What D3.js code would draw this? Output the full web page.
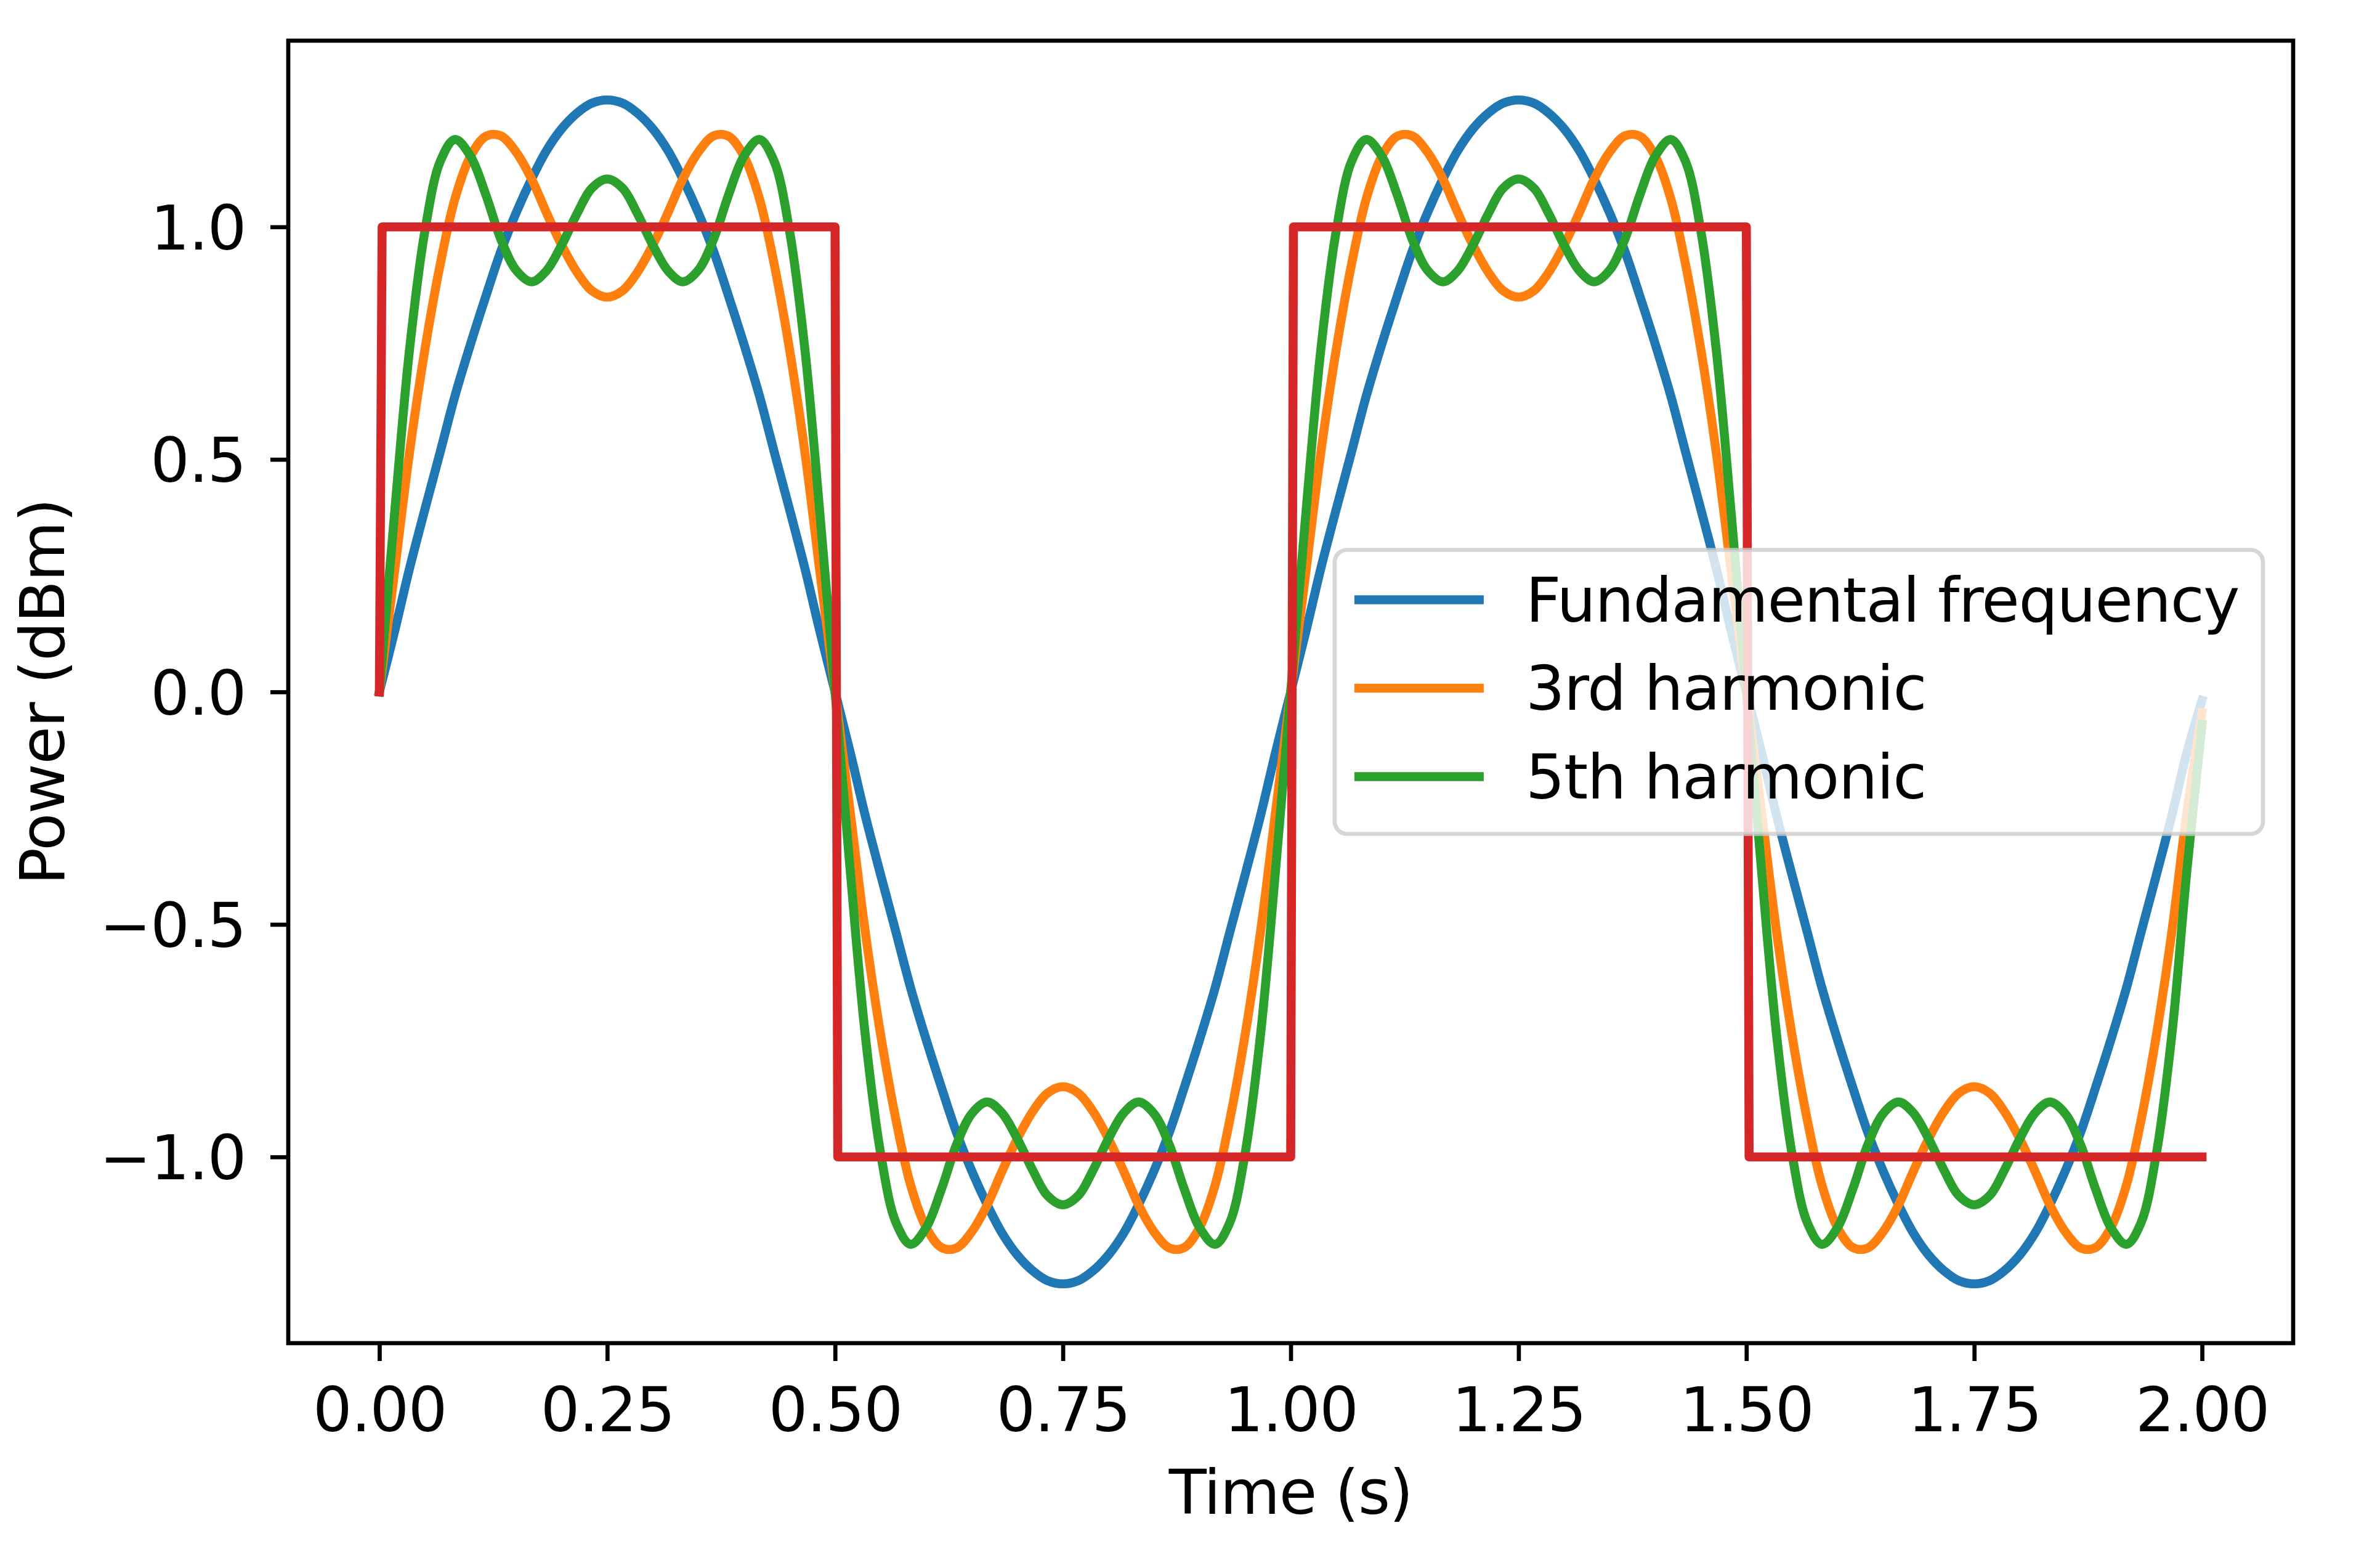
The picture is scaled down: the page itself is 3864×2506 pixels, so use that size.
<!DOCTYPE html>
<html>
<head>
<meta charset="utf-8">
<script src="https://cdn.jsdelivr.net/npm/d3@7"></script>
<style>
body{margin:0;background:#fff;}
svg text{font-family:"DejaVu Sans",sans-serif;letter-spacing:-1.4px;}
</style>
</head>
<body>
<svg id="chart"></svg>
<script>
// sample times (s)
var time = [
 0.000, 0.017, 0.033, 0.050, 0.067, 0.083, 0.100, 0.117, 0.133, 0.150, 0.167, 0.183, 0.200, 0.217, 0.233, 0.250, 0.267, 0.283, 0.300, 0.317, 0.333, 0.350, 0.367, 0.383, 0.400, 0.417, 0.433, 0.450, 0.467, 0.483,
 0.500, 0.517, 0.533, 0.550, 0.567, 0.583, 0.600, 0.617, 0.633, 0.650, 0.667, 0.683, 0.700, 0.717, 0.733, 0.750, 0.767, 0.783, 0.800, 0.817, 0.833, 0.850, 0.867, 0.883, 0.900, 0.917, 0.933, 0.950, 0.967, 0.983,
 1.000, 1.017, 1.033, 1.050, 1.067, 1.083, 1.100, 1.117, 1.133, 1.150, 1.167, 1.183, 1.200, 1.217, 1.233, 1.250, 1.267, 1.283, 1.300, 1.317, 1.333, 1.350, 1.367, 1.383, 1.400, 1.417, 1.433, 1.450, 1.467, 1.483,
 1.500, 1.517, 1.533, 1.550, 1.567, 1.583, 1.600, 1.617, 1.633, 1.650, 1.667, 1.683, 1.700, 1.717, 1.733, 1.750, 1.767, 1.783, 1.800, 1.817, 1.833, 1.850, 1.867, 1.883, 1.900, 1.917, 1.933, 1.950, 1.967, 1.983,
 2.000
];
var fundamental = [
 0, 0.133, 0.265, 0.393, 0.518, 0.637, 0.748, 0.852, 0.946, 1.03, 1.103, 1.163, 1.211, 1.245, 1.266, 1.273, 1.266, 1.245, 1.211, 1.163, 1.103, 1.03, 0.946, 0.852, 0.748, 0.637, 0.518, 0.393, 0.265, 0.133,
 0, -0.133, -0.265, -0.393, -0.518, -0.637, -0.748, -0.852, -0.946, -1.03, -1.103, -1.163, -1.211, -1.245, -1.266, -1.273, -1.266, -1.245, -1.211, -1.163, -1.103, -1.03, -0.946, -0.852, -0.748, -0.637, -0.518, -0.393, -0.265, -0.133,
 0, 0.133, 0.265, 0.393, 0.518, 0.637, 0.748, 0.852, 0.946, 1.03, 1.103, 1.163, 1.211, 1.245, 1.266, 1.273, 1.266, 1.245, 1.211, 1.163, 1.103, 1.03, 0.946, 0.852, 0.748, 0.637, 0.518, 0.393, 0.265, 0.133,
 0, -0.133, -0.265, -0.393, -0.518, -0.637, -0.748, -0.852, -0.946, -1.03, -1.103, -1.163, -1.211, -1.245, -1.266, -1.273, -1.266, -1.245, -1.211, -1.163, -1.103, -1.03, -0.946, -0.852, -0.748, -0.637, -0.518, -0.393, -0.265, -0.133,
 -0.018
];
var harmonic3 = [
 0, 0.264, 0.514, 0.737, 0.922, 1.061, 1.152, 1.195, 1.196, 1.161, 1.103, 1.032, 0.961, 0.902, 0.863, 0.849, 0.863, 0.902, 0.961, 1.032, 1.103, 1.161, 1.196, 1.195, 1.152, 1.061, 0.922, 0.737, 0.514, 0.264,
 0, -0.264, -0.514, -0.737, -0.922, -1.061, -1.152, -1.195, -1.196, -1.161, -1.103, -1.032, -0.961, -0.902, -0.863, -0.849, -0.863, -0.902, -0.961, -1.032, -1.103, -1.161, -1.196, -1.195, -1.152, -1.061, -0.922, -0.737, -0.514, -0.264,
 0, 0.264, 0.514, 0.737, 0.922, 1.061, 1.152, 1.195, 1.196, 1.161, 1.103, 1.032, 0.961, 0.902, 0.863, 0.849, 0.863, 0.902, 0.961, 1.032, 1.103, 1.161, 1.196, 1.195, 1.152, 1.061, 0.922, 0.737, 0.514, 0.264,
 0, -0.264, -0.514, -0.737, -0.922, -1.061, -1.152, -1.195, -1.196, -1.161, -1.103, -1.032, -0.961, -0.902, -0.863, -0.849, -0.863, -0.902, -0.961, -1.032, -1.103, -1.161, -1.196, -1.195, -1.152, -1.061, -0.922, -0.737, -0.514, -0.264,
 -0.045
];
var harmonic5 = [
 0, 0.392, 0.735, 0.992, 1.142, 1.188, 1.152, 1.068, 0.975, 0.907, 0.882, 0.905, 0.961, 1.029, 1.083, 1.103, 1.083, 1.029, 0.961, 0.905, 0.882, 0.907, 0.975, 1.068, 1.152, 1.188, 1.142, 0.992, 0.735, 0.392,
 0, -0.392, -0.735, -0.992, -1.142, -1.188, -1.152, -1.068, -0.975, -0.907, -0.882, -0.905, -0.961, -1.029, -1.083, -1.103, -1.083, -1.029, -0.961, -0.905, -0.882, -0.907, -0.975, -1.068, -1.152, -1.188, -1.142, -0.992, -0.735, -0.392,
 0, 0.392, 0.735, 0.992, 1.142, 1.188, 1.152, 1.068, 0.975, 0.907, 0.882, 0.905, 0.961, 1.029, 1.083, 1.103, 1.083, 1.029, 0.961, 0.905, 0.882, 0.907, 0.975, 1.068, 1.152, 1.188, 1.142, 0.992, 0.735, 0.392,
 0, -0.392, -0.735, -0.992, -1.142, -1.188, -1.152, -1.068, -0.975, -0.907, -0.882, -0.905, -0.961, -1.029, -1.083, -1.103, -1.083, -1.029, -0.961, -0.905, -0.882, -0.907, -0.975, -1.068, -1.152, -1.188, -1.142, -0.992, -0.735, -0.392,
 -0.07
];
// red square wave
var squareTime = [0, 0.003, 0.5, 0.503, 1.0, 1.003, 1.5, 1.503, 2.0];
var squareWave = [0, 1, 1, -1, -1, 1, 1, -1, -1];

var xTicks = [0, 0.25, 0.5, 0.75, 1, 1.25, 1.5, 1.75, 2];
var yTicks = [-1, -0.5, 0, 0.5, 1];
var legendLabels = ["Fundamental frequency", "3rd harmonic", "5th harmonic"];
var colors = ["#1f77b4", "#ff7f0e", "#2ca02c", "#d62728"];

var width = 3864, height = 2506;
var margin = {top: 66, right: 141, bottom: 326, left: 468};
var lw = 14.6, spineW = 6.7, fs = 100;

var svg = d3.select('#chart').attr('width', width).attr('height', height);
svg.append('rect').attr('width', width).attr('height', height).attr('fill', '#fff');

var x = d3.scaleLinear().domain([-0.1, 2.1]).range([margin.left, width - margin.right]);
var y = d3.scaleLinear().domain([-1.4005, 1.4005]).range([height - margin.bottom, margin.top]);

var smooth = d3.line().x(function(d){ return x(d[0]); }).y(function(d){ return y(d[1]); }).curve(d3.curveCatmullRom.alpha(0.5));
var straight = d3.line().x(function(d){ return x(d[0]); }).y(function(d){ return y(d[1]); });

var seriesLine = function(ts, vs, color, gen){
    this.pts = ts.map(function(t, i){ return [t, vs[i]]; });
    this.color = color;
    this.gen = gen;
}
seriesLine.prototype.display = function(g){
    g.append('path').attr('d', this.gen(this.pts)).attr('fill', 'none')
        .attr('stroke', this.color).attr('stroke-width', lw)
        .attr('stroke-linejoin', 'round').attr('stroke-linecap', 'square');
}

var gLines = svg.append('g').attr('id', 'lines');
var series = [
    new seriesLine(time, fundamental, colors[0], smooth),
    new seriesLine(time, harmonic3, colors[1], smooth),
    new seriesLine(time, harmonic5, colors[2], smooth),
    new seriesLine(squareTime, squareWave, colors[3], straight)
];
for (var i = 0; i < series.length; i++){
    series[i].display(gLines);
}

// axes
var xAxis = d3.axisBottom(x).tickValues(xTicks).tickFormat(d3.format('.2f')).tickSize(29).tickPadding(43);
var yAxis = d3.axisLeft(y).tickValues(yTicks).tickFormat(d3.format('.1f')).tickSize(29).tickPadding(40);

function styleAxis(g){
    g.select('.domain').remove();
    g.attr('font-size', fs).attr('font-family', '"DejaVu Sans", sans-serif');
    g.selectAll('.tick line').attr('stroke', '#000').attr('stroke-width', spineW);
    g.selectAll('.tick text').attr('fill', '#000');
}
svg.append('g').attr('transform', 'translate(0,' + (height - margin.bottom) + ')').call(xAxis).call(styleAxis);
svg.append('g').attr('transform', 'translate(' + margin.left + ',0)').call(yAxis).call(styleAxis)
    .selectAll('.tick text').attr('dy', '0.36em');

// frame
svg.append('rect').attr('x', x.range()[0]).attr('y', y.range()[1])
    .attr('width', x.range()[1] - x.range()[0]).attr('height', y.range()[0] - y.range()[1])
    .attr('fill', 'none').attr('stroke', '#000').attr('stroke-width', spineW).attr('stroke-linejoin', 'miter');

// axis labels
var midX = (x.range()[0] + x.range()[1]) / 2;
var midY = (y.range()[0] + y.range()[1]) / 2;
svg.append('text').text('Time (s)').attr('x', midX).attr('y', 2457)
    .attr('text-anchor', 'middle').attr('font-size', fs).attr('fill', '#000');
svg.append('text').text('Power (dBm)').attr('transform', 'translate(104,' + midY + ') rotate(-90)')
    .attr('text-anchor', 'middle').attr('font-size', fs).attr('fill', '#000');

// legend (center right)
var gLeg = svg.append('g').attr('id', 'legend');
var legBox = gLeg.append('rect');
var legTexts = [];
for (var i = 0; i < legendLabels.length; i++){
    legTexts.push(gLeg.append('text').text(legendLabels[i]).attr('font-size', fs).attr('fill', '#000'));
}
var textW = d3.max(legTexts, function(t){ return t.node().getComputedTextLength(); });
var legRight = x.range()[1] - 49;
var legH = 461;
var legTop = midY - legH / 2;
var legLeft = legRight - 39 - textW - 310;
legBox.attr('x', legLeft).attr('y', legTop).attr('width', legRight - legLeft).attr('height', legH)
    .attr('rx', 20).attr('ry', 20)
    .attr('fill', '#fff').attr('fill-opacity', 0.8)
    .attr('stroke', '#cccccc').attr('stroke-opacity', 0.8).attr('stroke-width', spineW);
for (var i = 0; i < legendLabels.length; i++){
    var ry = legTop + 81 + i * 143.5;
    gLeg.insert('line', 'text').attr('x1', legLeft + 32).attr('x2', legLeft + 242).attr('y1', ry).attr('y2', ry)
        .attr('stroke', colors[i]).attr('stroke-width', lw).attr('stroke-linecap', 'butt');
    legTexts[i].attr('x', legLeft + 310).attr('y', ry + 35);
}
</script>
</body>
</html>
